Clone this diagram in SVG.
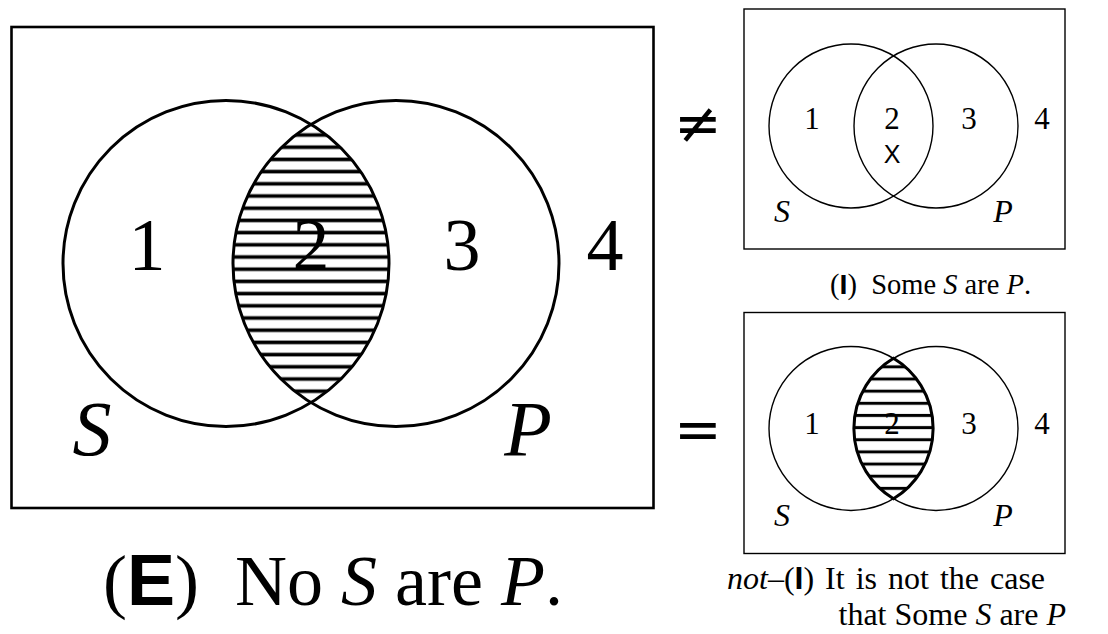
<svg xmlns="http://www.w3.org/2000/svg" width="1108" height="634" viewBox="0 0 1108 634">
  <style>
    .serif { font-family: "Liberation Serif", "Times New Roman", serif; fill: #000; }
    .it { font-style: italic; }
    .sansb { font-family: "Liberation Sans", Arial, sans-serif; font-weight: bold; }
    .sans { font-family: "Liberation Sans", Arial, sans-serif; fill: #000; }
    .rel { font-family: "DejaVu Sans", sans-serif; fill: #000; }
    .frameBig { fill: #fff; stroke: #000; stroke-width: 2.6; }
    .frameSmall { fill: #fff; stroke: #000; stroke-width: 1.4; }
    .circBig { fill: none; stroke: #000; stroke-width: 3; }
    .circSmall { fill: none; stroke: #000; stroke-width: 1.4; }
    .lensEdge { fill: none; stroke: #000; stroke-width: 3; }
    .dig { font-size: 31px; }
  </style>
  <defs>
    <pattern id="hatchBig" patternUnits="userSpaceOnUse" x="0" y="128.9" width="20" height="12.2">
      <rect x="0" y="4.3" width="20" height="3.6" fill="#000"/>
    </pattern>
    <pattern id="hatchSmall" patternUnits="userSpaceOnUse" x="0" y="372.9" width="20" height="12.15">
      <rect x="0" y="4.6" width="20" height="3" fill="#000"/>
    </pattern>
    <clipPath id="clipBigS"><circle cx="226" cy="263.5" r="163"/></clipPath>
    <clipPath id="clipBigP"><circle cx="396" cy="263.5" r="163"/></clipPath>
    <clipPath id="clipSmS"><circle cx="851" cy="428.5" r="82"/></clipPath>
    <clipPath id="clipSmP"><circle cx="936" cy="428.5" r="82"/></clipPath>
  </defs>

  <!-- Main diagram (E) -->
  <g id="diagram-E">
    <rect class="frameBig" x="11.5" y="27" width="642" height="481"/>
    <g clip-path="url(#clipBigS)">
      <rect x="226" y="90" width="180" height="350" fill="url(#hatchBig)" clip-path="url(#clipBigP)"/>
    </g>
    <circle class="circBig" cx="226" cy="263.5" r="163"/>
    <circle class="circBig" cx="396" cy="263.5" r="163"/>
    <text class="serif" x="147" y="270" font-size="74" text-anchor="middle">1</text>
    <text class="serif" x="311" y="270" font-size="74" text-anchor="middle">2</text>
    <text class="serif" x="462" y="270" font-size="74" text-anchor="middle">3</text>
    <text class="serif" x="605" y="270" font-size="74" text-anchor="middle">4</text>
    <text class="serif it" x="92" y="455" font-size="78" text-anchor="middle">S</text>
    <text class="serif it" x="528" y="455" font-size="78" text-anchor="middle">P</text>
  </g>
  <g id="caption-E">
    <text class="serif" x="103" y="605" font-size="72" xml:space="preserve">(<tspan class="sansb">E</tspan>)  No <tspan class="it">S</tspan> are <tspan class="it">P</tspan>.</text>
  </g>

  <!-- Relation symbols -->
  <g id="rel-neq"><text class="rel" x="698" y="143" font-size="57" text-anchor="middle">≠</text></g>
  <g id="rel-eq"><text class="rel" x="698" y="449" font-size="57" text-anchor="middle">=</text></g>

  <!-- Diagram (I) -->
  <g id="diagram-I">
    <rect class="frameSmall" x="744" y="9" width="321" height="240"/>
    <circle class="circSmall" cx="851" cy="126" r="82"/>
    <circle class="circSmall" cx="936" cy="126" r="82"/>
    <text class="serif dig" x="812" y="129" text-anchor="middle">1</text>
    <text class="serif dig" x="892" y="129" text-anchor="middle">2</text>
    <text class="sans" x="892" y="163" font-size="25" text-anchor="middle">X</text>
    <text class="serif dig" x="969" y="129" text-anchor="middle">3</text>
    <text class="serif dig" x="1042" y="129" text-anchor="middle">4</text>
    <text class="serif it" x="782" y="222" font-size="32" text-anchor="middle">S</text>
    <text class="serif it" x="1003" y="222" font-size="32" text-anchor="middle">P</text>
  </g>
  <g id="caption-I">
    <text class="serif" x="830" y="294" font-size="28.5" xml:space="preserve">(<tspan class="sansb">I</tspan>)  Some <tspan class="it">S</tspan> are <tspan class="it">P</tspan>.</text>
  </g>

  <!-- Diagram not-(I) -->
  <g id="diagram-notI">
    <rect class="frameSmall" x="744" y="312.5" width="321" height="241"/>
    <g clip-path="url(#clipSmS)">
      <rect x="850" y="340" width="90" height="180" fill="url(#hatchSmall)" clip-path="url(#clipSmP)"/>
    </g>
    <circle class="circSmall" cx="851" cy="428.5" r="82"/>
    <circle class="circSmall" cx="936" cy="428.5" r="82"/>
    <path class="lensEdge" d="M893.5 358.3 A82 82 0 0 1 893.5 498.7 A82 82 0 0 1 893.5 358.3 Z"/>
    <text class="serif dig" x="812" y="434" text-anchor="middle">1</text>
    <text class="serif dig" x="892" y="434" text-anchor="middle">2</text>
    <text class="serif dig" x="969" y="434" text-anchor="middle">3</text>
    <text class="serif dig" x="1042" y="434" text-anchor="middle">4</text>
    <text class="serif it" x="782" y="526" font-size="32" text-anchor="middle">S</text>
    <text class="serif it" x="1003" y="526" font-size="32" text-anchor="middle">P</text>
  </g>
  <g id="caption-notI">
    <text class="serif" x="727" y="589" font-size="32" word-spacing="3"><tspan class="it">not</tspan>–(<tspan class="sansb">I</tspan>) It is not the case</text>
    <text class="serif" x="1066" y="625" font-size="32" text-anchor="end">that Some <tspan class="it">S</tspan> are <tspan class="it">P</tspan></text>
  </g>
</svg>
